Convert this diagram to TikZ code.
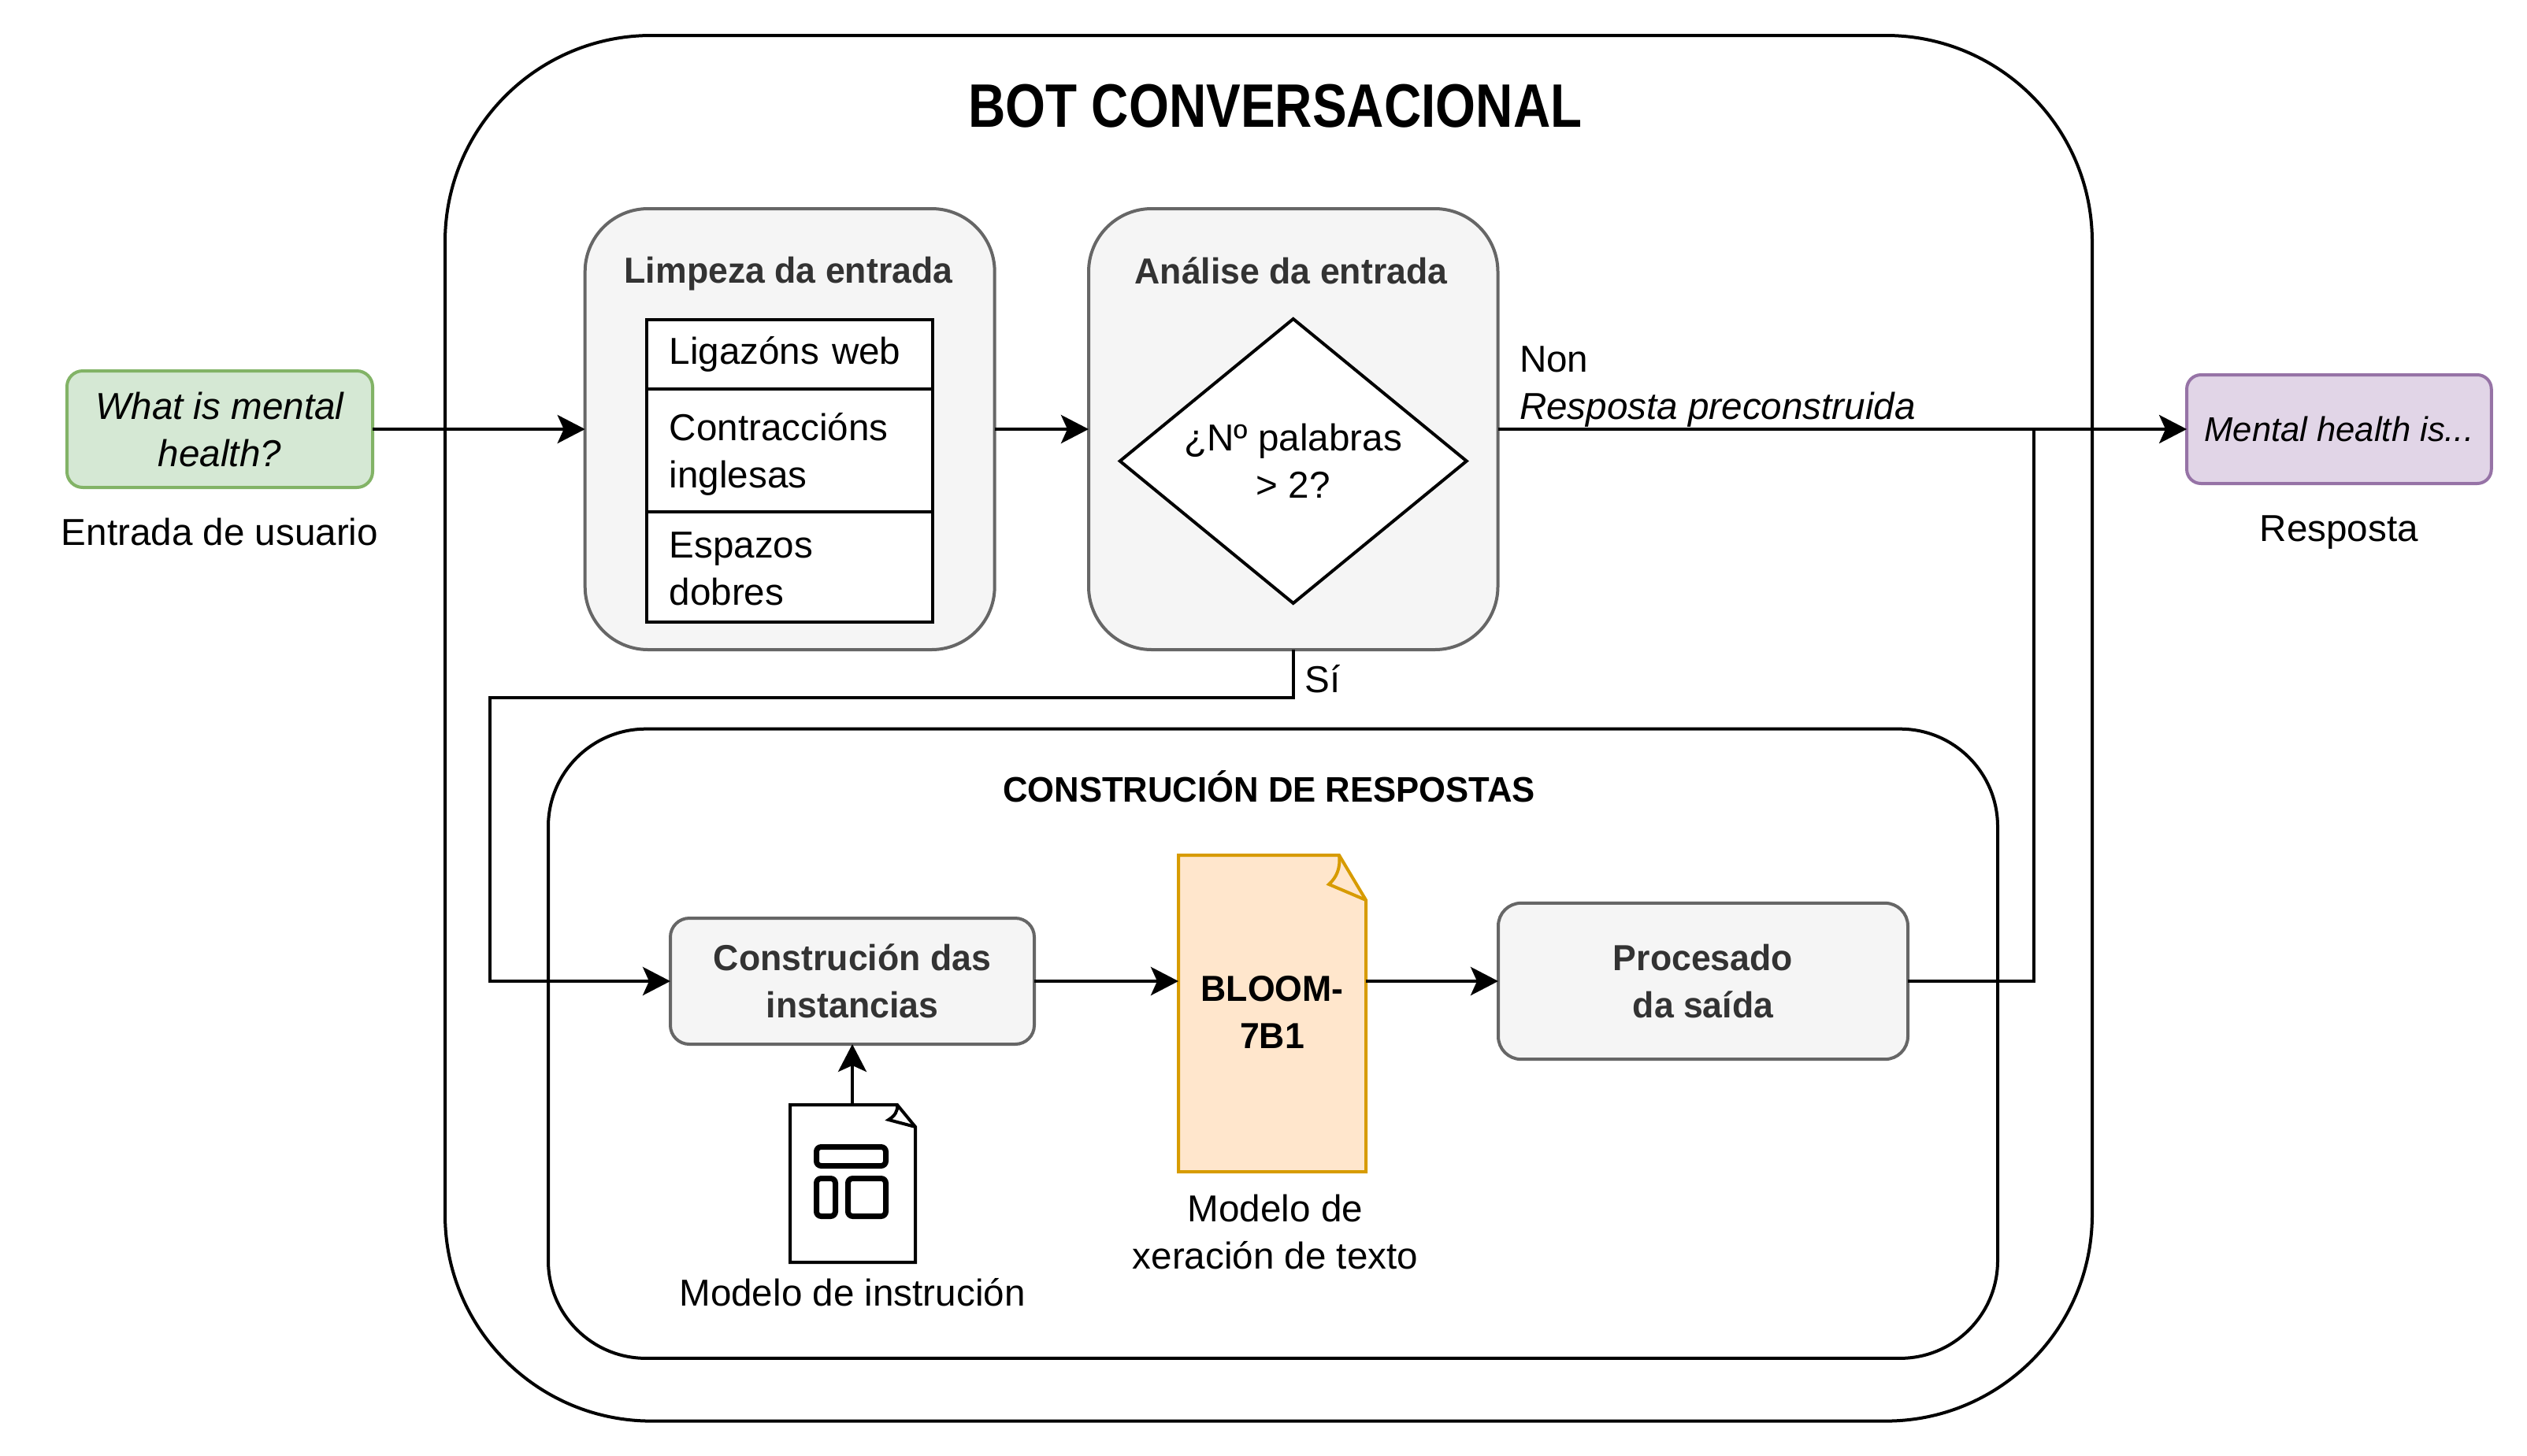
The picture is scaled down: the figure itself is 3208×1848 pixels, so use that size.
\documentclass[tikz,border=0pt]{standalone}
\usepackage{fontspec}
\setmainfont{Liberation Sans}
\newfontfamily\titlefont[FakeStretch=0.84]{Liberation Sans}
\newfontfamily\headfont[FakeStretch=0.97]{Liberation Sans}
\usetikzlibrary{positioning, arrows.meta, shapes.geometric}

\definecolor{boxfill}{HTML}{F5F5F5}
\definecolor{boxline}{HTML}{666666}
\definecolor{boxtext}{HTML}{333333}
\definecolor{inputfill}{HTML}{D5E8D4}
\definecolor{inputline}{HTML}{82B366}
\definecolor{outputfill}{HTML}{E1D5E7}
\definecolor{outputline}{HTML}{9673A6}
\definecolor{modelfill}{HTML}{FFE6CC}
\definecolor{modelline}{HTML}{D79B00}

\tikzset{
    every node/.style={outer sep=0pt, font=\fontsize{23.8}{30}\selectfont},
    plainbox/.style={draw, rectangle, align=center, inner sep=0pt},
    greybox/.style={plainbox, draw=boxline, fill=boxfill, text=boxtext},
    headtext/.style={font=\fontsize{23}{30}\selectfont\headfont\bfseries},
    cellbox/.style={draw, rectangle, fill=white, align=left, minimum width=181.5pt, text width=152.5pt, inner xsep=14.5pt, inner ysep=0pt},
    pagefold/.style={miter limit=10}
}

\begin{document}
\begin{tikzpicture}[x=0.5pt, y=-0.5pt, line width=2pt, >={Stealth[length=17.5pt, width=18pt, inset=4pt]}]
    \useasboundingbox (0,0) rectangle (3208,1848);

    \node[plainbox, minimum width=1045.5pt, minimum height=879.8pt, rounded corners=131pt] (bot) at (1610.5,924.8) {};
    \node[font=\fontsize{39}{46}\selectfont\titlefont\bfseries] (bottitle) at (1619,135) {BOT CONVERSACIONAL};
    \node[plainbox, minimum width=920pt, minimum height=399.6pt, rounded corners=62pt] (respostas) at (1616,1325.3) {};
    \node[font=\fontsize{22.5}{30}\selectfont\headfont\bfseries] (respostastitle) at (1611,999) {CONSTRUCIÓN DE RESPOSTAS};

    \node[plainbox, draw=inputline, fill=inputfill, minimum width=194pt, minimum height=74pt, rounded corners=10pt] (entrada) at (279,545) {\itshape What is mental\\\itshape health?};
    \node[below=16pt of entrada] (entradatext) {Entrada de usuario};

    \node[greybox, minimum width=260pt, minimum height=280pt, rounded corners=40pt] (limpeza) at (1002.7,545) {};
    \node[headtext, text=boxtext] (limpezatext) at (1001,348) {Limpeza da entrada};
    \node[cellbox, minimum height=44.15pt] (ligazons) at (1002.2,449.85) {Ligazóns web};
    \node[cellbox, minimum height=78pt, below=0pt of ligazons] (contraccions) {\rule{0pt}{22pt}Contraccións\\inglesas};
    \node[cellbox, minimum height=70pt, below=0pt of contraccions] (espazos) {\rule{0pt}{19pt}Espazos\\dobres};

    \node[greybox, minimum width=259.75pt, minimum height=280pt, rounded corners=40pt] (analise) at (1641.75,545) {};
    \node[headtext, text=boxtext] (analisetext) at (1639,344) {Análise da entrada};
    \node[draw, diamond, fill=white, align=center, inner sep=0pt, shape aspect=1.22, minimum width=220pt, minimum height=180.5pt] (palabras) at (1641.75,585.5) {¿Nº palabras\\> 2?};

    \node[plainbox, draw=outputline, fill=outputfill, minimum width=193.35pt, minimum height=69pt, rounded corners=9pt, font=\fontsize{21.8}{30}\selectfont\itshape] (saida) at (2969.4,545) {Mental health is...};
    \node[below=17pt of saida] (saidatext) {Resposta};

    \node[anchor=west, align=left, inner sep=0pt] (non) at (1929,491) {Non\\\itshape Resposta preconstruida};
    \node (si) at (1679,862) {Sí};
    \coordinate (sibend) at (622,885.7);
    \coordinate (unions) at (2582,545);

    \node[greybox, minimum width=231pt, minimum height=80pt, rounded corners=12pt, headtext] (instancias) at (1082,1246) {Construción das\\instancias};
    \node[greybox, minimum width=260pt, minimum height=99.15pt, rounded corners=14.5pt, headtext] (procesado) at (2162,1246) {Procesado\\da saída};

    \fill[modelfill] (1496,1086) -- (1700,1086) -- (1734,1143) -- (1734,1488) -- (1496,1488) -- cycle;
    \draw[modelline, pagefold] (1700,1086) -- (1496,1086) -- (1496,1488) -- (1734,1488) -- (1734,1143) -- cycle;
    \draw[modelline, pagefold] (1700,1086) .. controls (1702,1102) and (1697,1114) .. (1687,1123) -- (1734,1143);
    \node[headtext, text=black, align=center, minimum width=119pt, minimum height=201pt, inner sep=0pt] (bloom) at (1615,1285) {BLOOM-\\7B1};
    \node[align=center] (bloomtext) at (1619,1564) {Modelo de\\xeración de texto};

    \draw[pagefold] (1139,1403) -- (1003,1403) -- (1003,1603) -- (1162,1603) -- (1162,1431) -- cycle;
    \draw[pagefold] (1139,1403) .. controls (1140,1411) and (1136,1417) .. (1128,1422) -- (1162,1431);
    \node[minimum width=79.5pt, minimum height=100pt, inner sep=0pt] (plantilla) at (1082,1503) {};
    \draw[line width=3.5pt, rounded corners=3pt] (1036.5,1456.5) rectangle (1124.5,1480.5);
    \draw[line width=3.5pt, rounded corners=3pt] (1036.5,1496.5) rectangle (1060.5,1544.5);
    \draw[line width=3.5pt, rounded corners=3pt] (1076.5,1496.5) rectangle (1124.5,1544.5);
    \node[below=7pt of plantilla] (plantillatext) {Modelo de instrución};

    \draw[->] (entrada) -- (limpeza);
    \draw[->] (limpeza) -- (analise);
    \draw[->] (analise) -- (saida);
    \draw (procesado) -| (unions);
    \draw[->] (analise) |- (sibend) |- (instancias);
    \draw[->] (instancias) -- (instancias -| bloom.west);
    \draw[->] (procesado -| bloom.east) -- (procesado);
    \draw[->] (plantilla) -- (instancias);
\end{tikzpicture}
\end{document}
